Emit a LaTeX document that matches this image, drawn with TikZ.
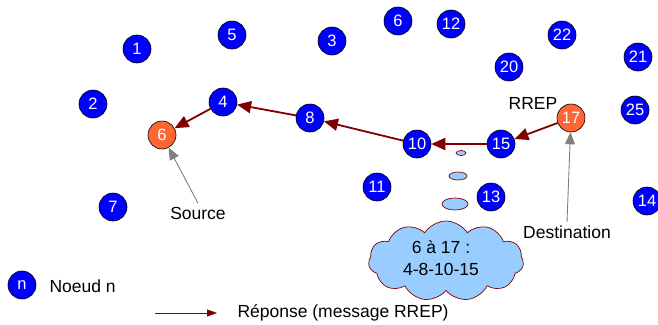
\documentclass[tikz,border=0pt]{standalone}
\usepackage{fontspec}
\setmainfont{Liberation Sans}
\usetikzlibrary{shapes.symbols,shapes.geometric,arrows.meta}
\definecolor{nodeblue}{HTML}{0000FF}
\definecolor{endorange}{HTML}{FF6633}
\definecolor{rrep}{HTML}{800000}
\definecolor{bubble}{HTML}{99CCFF}
\tikzset{
  netnode/.style={circle,draw=black,line width=0.6pt,fill=nodeblue,minimum size=28pt,inner sep=0pt,text=white,font=\fontsize{16.5}{16.5}\selectfont},
  endnode/.style={netnode,fill=endorange},
  lbl/.style={font=\fontsize{17.5}{19}\selectfont,text=black},
  reply/.style={draw=rrep,line width=1.8pt,-{Triangle[length=14pt,width=12pt]}},
  pointer/.style={draw=gray,line width=0.9pt,-{Triangle[length=12pt,width=10pt]}},
  puff/.style={ellipse,draw=rrep,line width=0.7pt,fill=bubble,inner sep=0pt}
}
\begin{document}
\begin{tikzpicture}[x=1pt,y=-1pt]
\useasboundingbox (0,0) rectangle (658,324);
% network nodes
\node[netnode] (n1) at (137,49) {1};
\node[netnode] (n5) at (232,35) {5};
\node[netnode] (n3) at (332,41) {3};
\node[netnode] (n6b) at (398,21) {6};
\node[netnode] (n12) at (451,24) {12};
\node[netnode] (n22) at (562,35) {22};
\node[netnode] (n20) at (509,67) {20};
\node[netnode] (n21) at (638,57) {21};
\node[netnode] (n25) at (635,110) {25};
\node[netnode] (n2) at (93,104) {2};
\node[netnode] (n4) at (223,102) {4};
\node[netnode] (n8) at (310,118) {8};
\node[netnode] (n10) at (417,144) {10};
\node[netnode] (n15) at (501,144) {15};
\node[netnode] (n7) at (113,207) {7};
\node[netnode] (n11) at (377,187) {11};
\node[netnode] (n13) at (491,197) {13};
\node[netnode] (n14) at (647,201) {14};
\node[endnode] (src) at (162,135) {6};
\node[endnode] (dst) at (571,118) {17};
% route reply path
\draw[reply] (dst) -- (n15);
\draw[reply] (n15) -- (n10);
\draw[reply] (n10) -- (n8);
\draw[reply] (n8) -- (n4);
\draw[reply] (n4) -- (src);
\node[lbl] (rreplbl) at (533,103) {RREP};
% source and destination labels
\node[lbl] (srclbl) at (198,213) {Source};
\node[lbl] (dstlbl) at (567,232) {Destination};
\draw[pointer] (srclbl.north) -- (src);
\draw[pointer] (dstlbl.north) -- (dst);
% thought bubble with the route
\node[puff,minimum width=10pt,minimum height=5pt] (b1) at (461,153) {};
\node[puff,minimum width=18pt,minimum height=8pt] (b2) at (458,176) {};
\node[puff,minimum width=26pt,minimum height=12pt] (b3) at (455,204) {};
\node[cloud,cloud puffs=11,cloud puff arc=115,draw=rrep,line width=0.7pt,fill=bubble,minimum width=155pt,minimum height=80pt,aspect=2.1] (cl) at (446,261) {};
\node[lbl,align=center] (route) at (441,258) {6 à 17 :\\[3pt]4-8-10-15};
% legend
\node[netnode] (legn) at (22,285) {n};
\node[lbl,anchor=west] (legtxt) at (46,286) {Noeud n};
\coordinate (la) at (155,313);
\coordinate (lb) at (217,313);
\draw[draw=rrep,line width=0.8pt,-{Triangle[length=10pt,width=7pt]}] (la) -- (lb);
\node[lbl,anchor=west] (legrep) at (234,313) {Réponse (message RREP)};
\end{tikzpicture}
\end{document}
